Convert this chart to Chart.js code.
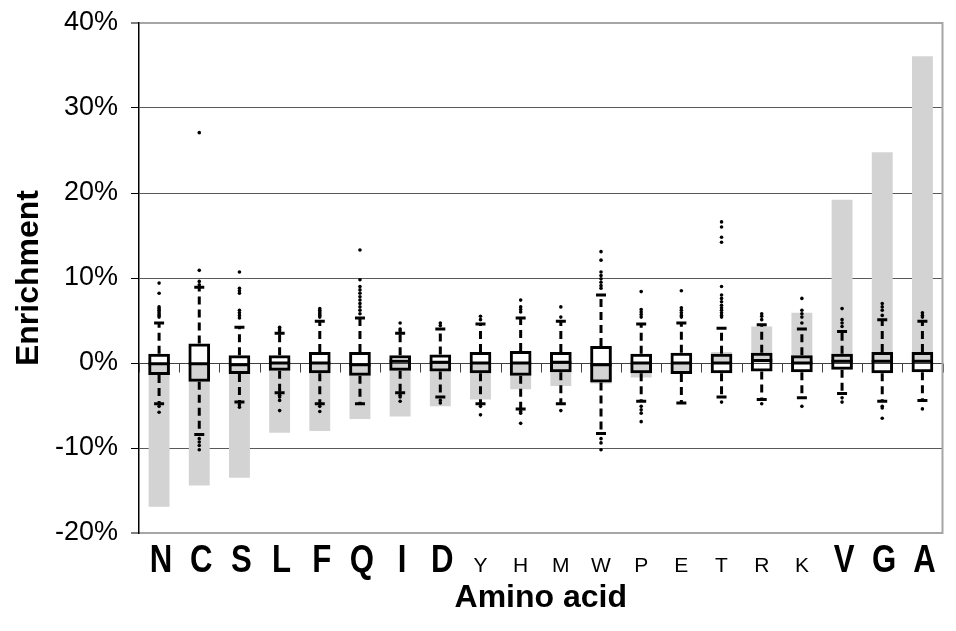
<!DOCTYPE html>
<html><head><meta charset="utf-8">
<script src="https://cdn.jsdelivr.net/npm/chart.js@4/dist/chart.umd.min.js"></script>
<style>html,body{margin:0;padding:0;background:#fff;}</style>
</head><body>
<canvas id="c" width="956" height="631"></canvas>
<script>
const categories = ['N','C','S','L','F','Q','I','D','Y','H','M','W','P','E','T','R','K','V','G','A'];
const boldLabels = ['N','C','S','L','F','Q','I','D','V','G','A'];
const enrichment = [-16.9,-14.4,-13.5,-8.2,-8.0,-6.6,-6.3,-5.1,-4.3,-3.1,-2.7,-2.4,-1.7,-1.2,1.3,4.3,5.9,19.2,24.8,36.1];
const whiskerLow  = [-4.8,-8.4,-4.6,-3.5,-4.8,-4.8,-3.5,-4.0,-4.8,-5.4,-4.8,-8.3,-4.5,-4.7,-4.0,-4.3,-4.1,-3.6,-4.5,-4.4];
const q1          = [-1.4,-2.2,-1.3,-0.9,-1.2,-1.5,-0.9,-1.0,-1.2,-1.5,-1.1,-2.3,-1.2,-1.3,-1.2,-1.0,-1.1,-0.8,-1.2,-1.1];
const median      = [-0.1,-0.1,-0.2, 0.0, 0.0,-0.2, 0.2, 0.1, 0.0, 0.0, 0.1,-0.2, 0.0, 0.0, 0.0, 0.3, 0.0, 0.2, 0.2, 0.2];
const q3          = [ 1.1, 2.3, 0.9, 0.9, 1.3, 1.3, 0.9, 1.0, 1.3, 1.4, 1.3, 2.0, 1.1, 1.2, 1.1, 1.2, 0.9, 1.1, 1.3, 1.3];
const whiskerHigh = [ 4.7, 8.9, 4.2, 3.5, 4.9, 5.3, 3.5, 4.0, 4.6, 5.3, 4.9, 8.0, 4.6, 4.7, 4.1, 4.5, 4.0, 3.7, 5.1, 4.9];
const outliers = [
  [9.4,8.2,6.6,6.4,6.2,6.0,5.8,5.6,5.4,-5.1,-5.8],
  [27.1,10.9,9.6,9.2,-8.9,-9.3,-9.7,-10.2],
  [10.7,8.8,8.5,8.2,6.2,5.9,5.6,5.3,-4.9,-5.2],
  [4.2,4.0,3.8,-3.8,-4.0,-4.4,-5.6],
  [6.4,6.2,6.0,5.8,5.6,5.4,-5.1,-5.7],
  [13.3,9.8,9.0,8.6,8.2,7.8,7.4,7.0,6.6,6.2,5.8],
  [4.7,4.0,3.8,-3.8,-4.0,-4.5],
  [4.7,4.4,-4.4,-4.7],
  [5.5,5.1,-5.1,-6.1],
  [7.4,6.6,6.3,6.0,-5.7,-5.9,-7.1],
  [6.6,5.4,-5.6],
  [13.1,12.1,10.7,10.3,9.9,9.5,9.1,8.8,-8.9,-9.4,-10.2],
  [8.4,6.3,6.0,5.7,5.4,-5.1,-5.5,-5.9,-6.9],
  [8.5,6.5,6.2,5.9,5.6,5.4],
  [16.6,16.0,14.8,14.2,9.0,8.0,7.6,7.2,6.8,6.5,6.2,5.9,5.6,5.4,-4.6],
  [5.8,5.5,5.1,-4.8],
  [7.6,6.2,5.8,5.4,4.7,-5.1],
  [6.4,5.1,4.7,4.3,-4.1,-4.6],
  [7.0,6.6,6.2,5.6,-5.1,-5.3,-6.5],
  [5.9,5.6,5.4,-5.4]
];
const yTicks = [-20,-10,0,10,20,30,40];

const boxData = categories.map((c,i)=>[q1[i], q3[i]]);
const outlierPts = [];
outliers.forEach((arr,i)=>arr.forEach(v=>outlierPts.push({x:categories[i], y:v})));

const FONT = '"Liberation Sans", Arial, Helvetica, sans-serif';

const overlay = {
  id:'overlay',
  afterDatasetDraw(chart, args){
    if (chart.data.datasets[args.index].label !== 'Enrichment') return;
    const ctx = chart.ctx, x = chart.scales.x, y = chart.scales.y, ca = chart.chartArea;
    const y0 = Math.round(y.getPixelForValue(0)) + 0.5;
    ctx.save();
    ctx.strokeStyle = '#404040'; ctx.lineWidth = 1;
    ctx.beginPath(); ctx.moveTo(ca.left, y0); ctx.lineTo(ca.right, y0); ctx.stroke();
    const n = categories.length;
    for (let i = 0; i <= n; i++) {
      let px;
      if (i === 0) px = ca.left; else if (i === n) px = ca.right;
      else px = (x.getPixelForValue(i-1) + x.getPixelForValue(i)) / 2;
      px = Math.round(px) + 0.5;
      ctx.beginPath(); ctx.moveTo(px, y0); ctx.lineTo(px, y0 + 9); ctx.stroke();
    }
    ctx.strokeStyle = '#000'; ctx.lineWidth = 3; ctx.setLineDash([8,5]); ctx.lineCap = 'butt';
    categories.forEach((c,i)=>{
      const px = x.getPixelForValue(i);
      ctx.beginPath(); ctx.moveTo(px, y.getPixelForValue(q3[i])); ctx.lineTo(px, y.getPixelForValue(whiskerHigh[i])); ctx.stroke();
      ctx.beginPath(); ctx.moveTo(px, y.getPixelForValue(q1[i])); ctx.lineTo(px, y.getPixelForValue(whiskerLow[i])); ctx.stroke();
    });
    ctx.restore();
  },
  afterDraw(chart){
    const ctx = chart.ctx, x = chart.scales.x, ca = chart.chartArea;
    ctx.save();
    ctx.strokeStyle = '#a6a6a6'; ctx.lineWidth = 2;
    ctx.beginPath(); ctx.moveTo(ca.right, ca.top - 1); ctx.lineTo(ca.right, ca.bottom + 1); ctx.stroke();
    ctx.fillStyle = '#000'; ctx.textAlign = 'center'; ctx.textBaseline = 'alphabetic';
    const base = ca.bottom + 39;
    categories.forEach((c,i)=>{
      const px = x.getPixelForValue(i);
      if (boldLabels.includes(c)) {
        ctx.save(); ctx.translate(px + 2, base); ctx.scale(0.82, 1);
        ctx.font = 'bold 38px ' + FONT; ctx.fillText(c, 0, 0); ctx.restore();
      } else {
        ctx.font = '21px ' + FONT; ctx.fillText(c, px, base);
      }
    });
    ctx.restore();
  }
};

new Chart(document.getElementById('c'), {
  type: 'bar',
  data: {
    labels: categories,
    datasets: [
      { label:'Outliers', type:'line', data: outlierPts, showLine:false, order:1,
        pointStyle:'circle', pointRadius:1.8, pointBorderWidth:0, pointBackgroundColor:'#000', pointBorderColor:'#000' },
      { label:'Median', type:'line', data: median, showLine:false, order:2,
        pointStyle:'line', pointRadius:10.5, pointBorderWidth:3, pointBorderColor:'#000', pointBackgroundColor:'#000' },
      { label:'Whisker high', type:'line', data: whiskerHigh, showLine:false, order:2,
        pointStyle:'line', pointRadius:5, pointBorderWidth:3, pointBorderColor:'#000', pointBackgroundColor:'#000' },
      { label:'Whisker low', type:'line', data: whiskerLow, showLine:false, order:2,
        pointStyle:'line', pointRadius:5, pointBorderWidth:3, pointBorderColor:'#000', pointBackgroundColor:'#000' },
      { label:'Box', data: boxData, order:3, grouped:false, backgroundColor:'rgba(0,0,0,0)',
        borderColor:'#000', borderWidth:3, borderSkipped:false, barPercentage:0.54, categoryPercentage:1 },
      { label:'Enrichment', data: enrichment, order:10, grouped:false, backgroundColor:'#d3d3d3',
        borderWidth:0, barPercentage:0.52, categoryPercentage:1 }
    ]
  },
  options: {
    responsive:false, animation:false, devicePixelRatio:1,
    layout:{ padding:{ top:23, right:7, left:0, bottom:0 } },
    plugins:{ legend:{display:false}, tooltip:{enabled:false} },
    scales:{
      x:{
        type:'category',
        grid:{ display:false },
        border:{ display:true, color:'#a6a6a6', width:2 },
        ticks:{ display:false },
        title:{ display:true, text:'Amino acid', color:'#000',
          font:{ family:FONT, size:32, weight:'bold' }, padding:{ top:0, bottom:14 } },
        afterFit(s){ s.height = 98; s.paddingLeft = 0; s.paddingRight = 0; }
      },
      y:{
        min:-20, max:40,
        afterBuildTicks(s){ s.ticks = yTicks.map(v=>({value:v})); },
        ticks:{ callback:v=>v+'%', color:'#000', padding:13, font:{ family:FONT, size:27 } },
        grid:{
          color: c => (c.tick && (c.tick.value === 40 || c.tick.value === -20)) ? '#a6a6a6' : (c.tick && c.tick.value === 0 ? '#404040' : '#595959'),
          lineWidth: c => (c.tick && (c.tick.value === 40 || c.tick.value === -20)) ? 2 : 1,
          tickLength:8, tickColor:'#000', tickWidth:1
        },
        border:{ color:'#000', width:1.5 },
        title:{ display:true, text:'Enrichment', color:'#000',
          font:{ family:FONT, size:32, weight:'bold' }, padding:{ top:10, bottom:0 } },
        afterFit(s){ s.width = 139; s.paddingTop = 0; s.paddingBottom = 0; }
      }
    }
  },
  plugins:[overlay]
});
</script>
</body></html>
